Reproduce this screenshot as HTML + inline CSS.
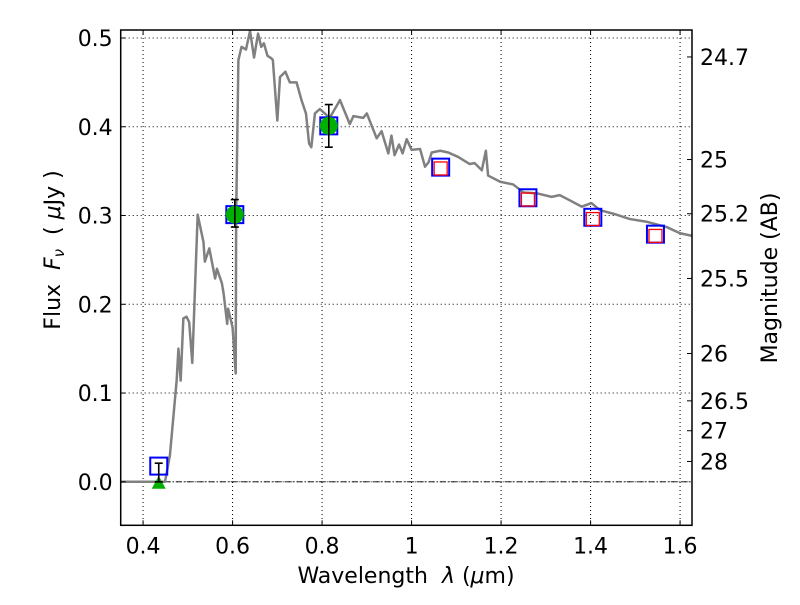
<!DOCTYPE html>
<html><head><meta charset="utf-8"><style>
body{margin:0;background:#fff}
svg text{font-family:"DejaVu Sans","Liberation Sans",sans-serif;fill:#000}
</style></head><body>
<svg id="chart" width="800" height="600" xmlns="http://www.w3.org/2000/svg">
<rect width="800" height="600" fill="#fff"/>
<g id="grid"></g>
<g id="marks"></g>
<g id="axes"></g>
<text x="406" y="583" font-size="22" text-anchor="middle">Wavelength&#160;&#160;<tspan font-style="italic">λ</tspan> (<tspan font-style="italic">μ</tspan>m)</text>
<text transform="translate(60,250) rotate(-90)" font-size="22" text-anchor="middle">Flux&#160;&#160;<tspan font-style="italic">F</tspan><tspan font-style="italic" font-size="15" dy="4">ν</tspan><tspan dy="-4">&#160;&#160;(&#160;</tspan><tspan font-style="italic">μ</tspan>Jy )</text>
<text transform="translate(777,278) rotate(-90)" font-size="22" text-anchor="middle">Magnitude (AB)</text>
</svg>
<script>
const waves=[0.35,0.40,0.449,0.46,0.475,0.479,0.484,0.49,0.497,0.503,0.51,0.522,0.535,0.538,0.548,0.561,0.565,0.576,0.58,0.588,0.59,0.60,0.607,0.608,0.613,0.62,0.63,0.639,0.648,0.657,0.664,0.67,0.678,0.687,0.69,0.70,0.706,0.718,0.728,0.743,0.754,0.764,0.771,0.776,0.784,0.795,0.817,0.84,0.862,0.87,0.892,0.90,0.922,0.933,0.948,0.955,0.962,0.972,0.98,0.989,1.0,1.019,1.03,1.038,1.045,1.064,1.082,1.104,1.13,1.141,1.157,1.166,1.171,1.198,1.227,1.25,1.28,1.313,1.331,1.354,1.38,1.402,1.421,1.451,1.488,1.525,1.57,1.6,1.628];
const fluxes=[0.0,0.0,0.0,0.03,0.114,0.15,0.114,0.184,0.186,0.18,0.134,0.301,0.27,0.248,0.263,0.229,0.24,0.224,0.212,0.178,0.195,0.174,0.122,0.3,0.475,0.49,0.487,0.508,0.478,0.505,0.49,0.494,0.48,0.477,0.475,0.407,0.456,0.462,0.45,0.45,0.43,0.415,0.381,0.377,0.415,0.42,0.41,0.43,0.403,0.412,0.41,0.415,0.387,0.395,0.37,0.39,0.368,0.38,0.37,0.386,0.374,0.375,0.355,0.36,0.371,0.373,0.371,0.366,0.358,0.359,0.351,0.373,0.345,0.338,0.335,0.326,0.325,0.321,0.323,0.317,0.31,0.314,0.306,0.302,0.296,0.293,0.287,0.28,0.277];
const obsWave=[0.435,0.605,0.815,1.065,1.26,1.405,1.545];
const obsFlux=[0.0177,0.301,0.401,0.3545,0.320,0.298,0.279];
const modelWave=[1.065,1.26,1.405,1.545];
const modelFlux=[0.353,0.318,0.296,0.277];
const detWave=[0.605,0.815];
const detFlux=[0.301,0.401];
const errLow=[0.0,0.287,0.377];
const errHigh=[0.021,0.318,0.425];
const errWave=[0.435,0.605,0.815];
const limWave=[0.435];
const limFlux=[0.0];
const xTicks=[0.4,0.6,0.8,1.0,1.2,1.4,1.6];
const xTickLabels=["0.4","0.6","0.8","1","1.2","1.4","1.6"];
const yTicks=[0.0,0.1,0.2,0.3,0.4,0.5];
const yTickLabels=["0.0","0.1","0.2","0.3","0.4","0.5"];
const magTicks=[24.7,25,25.2,25.5,26,26.5,27,28];
const magLabels=["24.7","25","25.2","25.5","26","26.5","27","28"];

const L=120.7,R=692,T=30,B=525.3;
const xmin=0.35,xmax=0.35+(R-L)/447.5,ymin=-0.049,ymax=0.509;
const X=v=>L+(v-xmin)/(xmax-xmin)*(R-L);
const Y=v=>B-(v-ymin)/(ymax-ymin)*(B-T);
const NS="http://www.w3.org/2000/svg";
function mk(p,tag,attrs){const e=document.createElementNS(NS,tag);for(const k in attrs)e.setAttribute(k,attrs[k]);p.appendChild(e);return e;}
const grid=document.getElementById('grid'),marks=document.getElementById('marks'),axes=document.getElementById('axes');
const clip=mk(document.getElementById('chart'),'clipPath',{id:'pc'});
mk(clip,'rect',{x:L,y:T,width:R-L,height:B-T});
marks.setAttribute('clip-path','url(#pc)');

xTicks.forEach((t,i)=>{
  const g=mk(grid,'line',{x1:X(t),x2:X(t),y1:T,y2:B,stroke:'#000','stroke-width':1,'stroke-dasharray':'1,3'});
  
  
  mk(axes,'line',{x1:X(t),x2:X(t),y1:B,y2:B-5,stroke:'#000'});
  mk(axes,'line',{x1:X(t),x2:X(t),y1:T,y2:T+5,stroke:'#000'});
  const tx=mk(axes,'text',{x:X(t),y:B+28,'font-size':22,'text-anchor':'middle'});
  tx.textContent=xTickLabels[i];
  
  
});
yTicks.forEach((t,i)=>{
  const g=mk(grid,'line',{x1:L,x2:R,y1:Y(t),y2:Y(t),stroke:'#000','stroke-width':1,'stroke-dasharray':'1,3'});
  
  
  mk(axes,'line',{x1:L,x2:L+5,y1:Y(t),y2:Y(t),stroke:'#000'});
  const tx=mk(axes,'text',{x:L-8,y:Y(t)+8,'font-size':22,'text-anchor':'end'});
  tx.textContent=yTickLabels[i];
  
  
});
magTicks.forEach((m,i)=>{
  const f=Math.pow(10,(23.9-m)/2.5);
  mk(axes,'line',{x1:R,x2:R-5,y1:Y(f),y2:Y(f),stroke:'#000'});
  const tx=mk(axes,'text',{x:R+8,y:Y(f)+8,'font-size':22});
  tx.textContent=magLabels[i];
  
  
});
const z=mk(marks,'line',{x1:L,x2:R,y1:Y(0),y2:Y(0),stroke:'#000','stroke-width':0.8,'stroke-dasharray':'6,2,1,2'});


const sp=mk(marks,'polyline',{points:waves.map((w,i)=>X(w)+','+Y(fluxes[i])).join(' '),fill:'none',stroke:'#808080','stroke-width':2.5,'stroke-linejoin':'round'});


limWave.forEach((w,i)=>{
  const x=X(w),y=Y(limFlux[i]);
  const tr=mk(marks,'polygon',{points:`${x},${y-6} ${x-7},${y+7} ${x+7},${y+7}`,fill:'#00b000'});
  
  
});
obsWave.forEach((w,i)=>{
  const r=mk(marks,'rect',{x:X(w)-8.5,y:Y(obsFlux[i])-8.5,width:17,height:17,fill:'none',stroke:'#0000ff','stroke-width':2});
  
  
});
modelWave.forEach((w,i)=>{
  const r=mk(marks,'rect',{x:X(w)-6.5,y:Y(modelFlux[i])-6.5,width:13,height:13,fill:'none',stroke:'#ff0000','stroke-width':1.3});
  
  
});
detWave.forEach((w,i)=>{
  const c=mk(marks,'circle',{cx:X(w),cy:Y(detFlux[i]),r:9,fill:'#00b000'});
  
  
});
errWave.forEach((w,i)=>{
  const x=X(w),y1=Y(errLow[i]),y2=Y(errHigh[i]);
  const e=mk(marks,'path',{d:`M${x},${y1}V${y2}M${x-4},${y1}H${x+4}M${x-4},${y2}H${x+4}`,stroke:'#000','stroke-width':1.6,fill:'none'});
  
  
});
const fr=mk(axes,'rect',{x:L,y:T,width:R-L,height:B-T,fill:'none',stroke:'#000','stroke-width':1.5});


</script>
</body></html>
